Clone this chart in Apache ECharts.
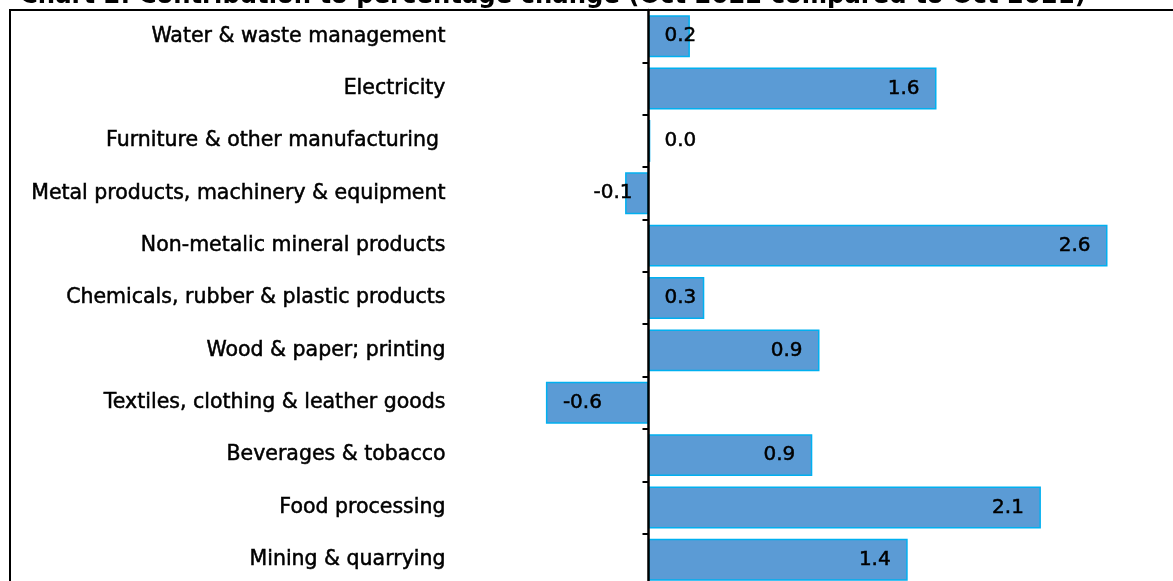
<!DOCTYPE html>
<html>
<head>
<meta charset="utf-8">
<script src="https://cdn.jsdelivr.net/npm/echarts@6/dist/echarts.min.js"></script>
<style>
html,body{margin:0;padding:0;background:#fff;}
#chart{width:1173px;height:581px;}
</style>
</head>
<body>
<div id="chart"></div>
<script>
// Categories bottom to top
const categories = [
  'Mining & quarrying',
  'Food processing',
  'Beverages & tobacco',
  'Textiles, clothing & leather goods',
  'Wood & paper; printing',
  'Chemicals, rubber & plastic products',
  'Non-metalic mineral products',
  'Metal products, machinery & equipment',
  'Furniture & other manufacturing ',
  'Electricity',
  'Water & waste management'
];
// Bar lengths
const values = [1.44, 2.18, 0.91, -0.57, 0.95, 0.31, 2.55, -0.13, 0.01, 1.60, 0.23];
// Printed data labels
const valueLabels = ['1.4', '2.1', '0.9', '-0.6', '0.9', '0.3', '2.6', '-0.1', '0.0', '1.6', '0.2'];
const titleText = 'Chart 2: Contribution to percentage change (Oct 2022 compared to Oct 2021)';

const FONT = 'DejaVu Sans';
const chart = echarts.init(document.getElementById('chart'), null, {renderer: 'canvas'});

const seriesData = values.map((v, i) => {
  let pos, dist = 17;
  if (v >= 0) pos = v < 0.5 ? 'insideLeft' : 'insideRight';
  else pos = v > -0.3 ? 'insideRight' : 'insideLeft';
  if (v >= 0 && v < 0.5) dist = 16;
  if (v < 0 && v > -0.3) dist = 16;
  return {value: v, label: {position: pos, distance: dist}};
});

chart.setOption({
  animation: false,
  backgroundColor: '#fff',
  title: {
    text: titleText,
    left: 15,
    top: -20.5,
    textStyle: {fontFamily: FONT, fontSize: 24.3, fontWeight: 'bold', color: '#000'}
  },
  graphic: [{
    type: 'rect',
    shape: {x: 10, y: 10, width: 1300, height: 700},
    style: {fill: 'none', stroke: '#000', lineWidth: 2},
    silent: true,
    z: 10
  }],
  grid: {left: 468.5, top: 10, width: 720, height: 576, outerBoundsMode: 'none', containLabel: false},
  xAxis: {
    type: 'value', min: -1, max: 3, show: false,
    splitLine: {show: false}
  },
  yAxis: {
    type: 'category',
    data: categories,
    z: 5,
    axisLine: {show: true, onZero: true, lineStyle: {color: '#000', width: 2.5}},
    axisTick: {show: true, length: 6, inside: false, lineStyle: {color: '#000', width: 2}},
    axisLabel: {
      margin: 23,
      color: '#000',
      fontFamily: FONT,
      fontSize: 20.5,
      fontWeight: 'normal',
      textBorderColor: '#000',
      textBorderWidth: 0.5
    },
    splitLine: {show: false}
  },
  series: [{
    type: 'bar',
    data: seriesData,
    barWidth: '80%',
    itemStyle: {color: '#5B9BD5', borderColor: '#00B0F0', borderWidth: 1.5},
    label: {
      show: true,
      color: '#000',
      fontFamily: FONT,
      fontSize: 20,
      fontWeight: 'normal',
      textBorderColor: '#000',
      textBorderWidth: 0.5,
      formatter: p => valueLabels[p.dataIndex]
    }
  }]
});
</script>
</body>
</html>
